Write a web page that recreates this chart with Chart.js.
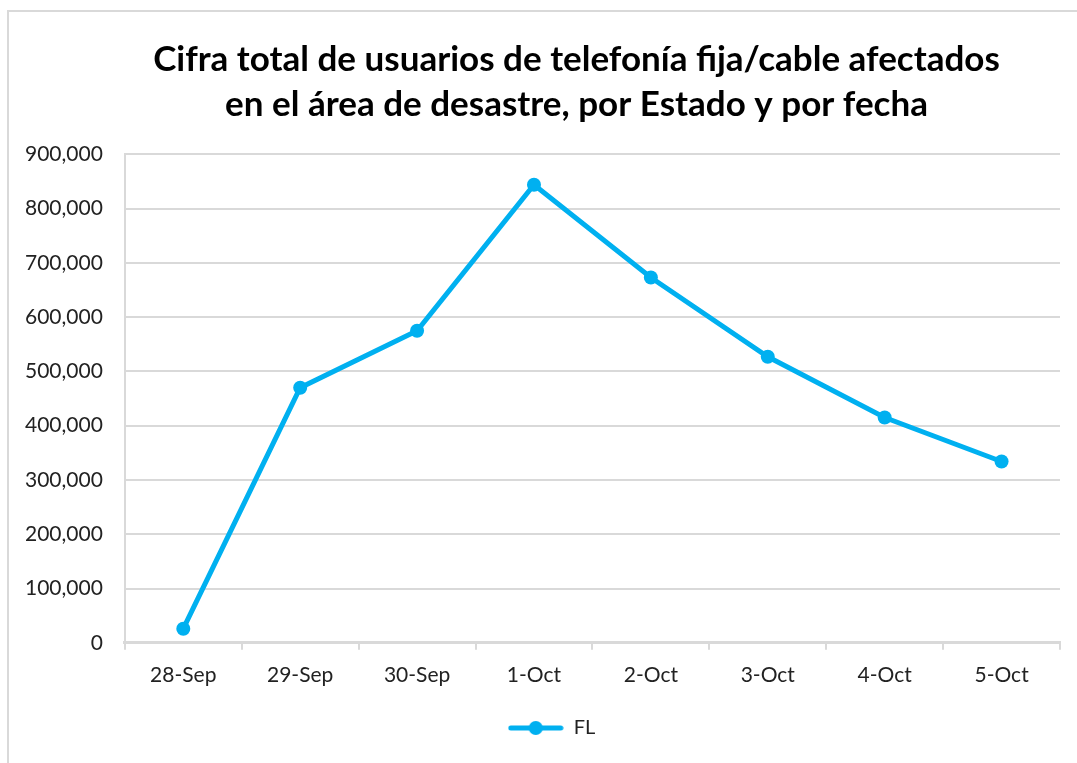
<!DOCTYPE html>
<html>
<head>
<meta charset="utf-8">
<script src="https://cdn.jsdelivr.net/npm/chart.js@4/dist/chart.umd.min.js"></script>
<style>
  html, body { margin: 0; padding: 0; background: #fff; }
  #wrap { position: relative; width: 1077px; height: 763px; overflow: hidden; }
  #frame { position: absolute; left: 7px; top: 10px; width: 1100px; height: 800px;
           border-left: 2px solid #d9d9d9; border-top: 2px solid #d9d9d9; box-sizing: border-box; }
  canvas { position: absolute; left: 0; top: 0; }
</style>
</head>
<body>
<div id="wrap">
  <div id="frame"></div>
  <canvas id="c" width="1077" height="763"></canvas>
</div>
<script>
const titleLines = ['Cifra total de usuarios de telefonía fija/cable afectados', 'en el área de desastre, por Estado y por fecha'];
const categories = ['28-Sep', '29-Sep', '30-Sep', '1-Oct', '2-Oct', '3-Oct', '4-Oct', '5-Oct'];
const seriesName = 'FL';
const flValues = [26000, 470000, 575000, 844000, 673000, 527000, 415000, 334000];
const yMin = 0;
const yMax = 900000;
const yStep = 100000;

const lineColor = '#00B0F0';

// legend symbol: line with marker (Excel style)
const legendSym = document.createElement('canvas');
legendSym.width = 56; legendSym.height = 16;
(function () {
  const g = legendSym.getContext('2d');
  g.strokeStyle = lineColor; g.lineWidth = 5; g.lineCap = 'round';
  g.beginPath(); g.moveTo(3, 8); g.lineTo(53, 8); g.stroke();
  g.fillStyle = lineColor; g.beginPath(); g.arc(28, 8, 7, 0, Math.PI * 2); g.fill();
})();

// The original chart frame extends beyond the right edge of the picture,
// so the title and legend are centred further right than the plot.
const shiftBoxes = {
  id: 'shiftBoxes',
  afterLayout(chart) {
    if (chart.titleBlock) { chart.titleBlock.left += 45; chart.titleBlock.right += 45; }
    if (chart.legend) { chart.legend.left += 20; chart.legend.right += 20; }
  }
};

new Chart(document.getElementById('c'), {
  type: 'line',
  data: {
    labels: categories,
    datasets: [{
      label: seriesName,
      data: flValues,
      borderColor: lineColor,
      backgroundColor: lineColor,
      borderWidth: 5,
      pointRadius: 7,
      pointHoverRadius: 7,
      pointBackgroundColor: lineColor,
      pointBorderWidth: 0,
      tension: 0,
      fill: false
    }]
  },
  plugins: [shiftBoxes],
  options: {
    responsive: false,
    animation: false,
    devicePixelRatio: 1,
    layout: { padding: { left: 3, right: 17, top: 0, bottom: 15 } },
    plugins: {
      title: {
        display: true,
        text: titleLines,
        color: '#000',
        font: { family: 'Lato', size: 35, weight: 'bold', lineHeight: 1.29 },
        padding: { top: 37, bottom: 27 }
      },
      legend: {
        display: true,
        position: 'bottom',
        labels: {
          usePointStyle: true,
          pointStyle: legendSym,
          pointStyleWidth: 56,
          boxHeight: 16,
          color: '#222',
          font: { family: 'Lato', size: 20 },
          padding: 17
        }
      },
      tooltip: { enabled: false }
    },
    scales: {
      x: {
        offset: true,
        grid: { offset: true, drawOnChartArea: false, drawTicks: true, tickLength: 7, color: '#d9d9d9', lineWidth: 2 },
        border: { display: true, color: '#d9d9d9', width: 3 },
        ticks: { color: '#222', font: { family: 'Lato', size: 21 }, padding: 13, maxRotation: 0 }
      },
      y: {
        min: yMin,
        max: yMax,
        grid: { drawTicks: false, color: '#d9d9d9', lineWidth: 2 },
        border: { display: true, color: '#d9d9d9', width: 2 },
        ticks: {
          stepSize: yStep,
          color: '#222',
          font: { family: 'Lato', size: 21 },
          padding: 22,
          callback: v => v.toLocaleString('en-US')
        }
      }
    }
  }
});
</script>
</body>
</html>
